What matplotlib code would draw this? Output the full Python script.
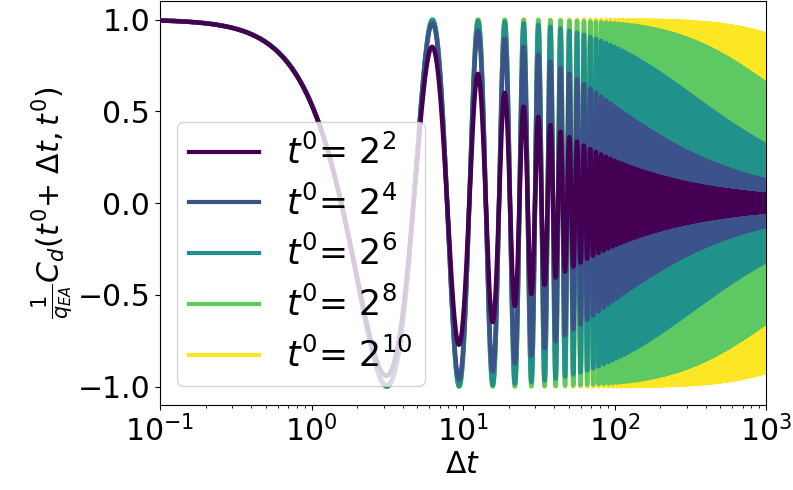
import numpy as np
import matplotlib

matplotlib.use("Agg")
import matplotlib.pyplot as plt

# waiting times t0 = 2**k
t0_exponents = [2, 4, 6, 8, 10]
colors = ["#440154", "#3b528b", "#21918c", "#5ec962", "#fde725"]
dt_min, dt_max = 1e-1, 1e3
decay_power = 0.75  # d/4 with d = 3


def correlation(dt, t0):
    t = t0 + dt
    envelope = (4.0 * t * t0 / (t + t0) ** 2) ** decay_power
    return np.cos(dt) * envelope


dt = np.logspace(np.log10(dt_min), np.log10(dt_max), 200000)

fig = plt.figure(figsize=(7.93, 4.90), dpi=100)
ax = fig.add_axes([0.2018, 0.1735, 0.7642, 0.824])

n = len(t0_exponents)
for i, (k, c) in enumerate(zip(t0_exponents, colors)):
    ax.plot(dt, correlation(dt, 2.0 ** k), color=c, lw=3.2,
            label=rf"$t^0$= $2^{{{k}}}$", zorder=2 + n - i)

ax.set_xscale("log")
ax.set_xlim(dt_min, dt_max)
ax.set_ylim(-1.1, 1.1)
ax.set_yticks([-1.0, -0.5, 0.0, 0.5, 1.0])
ax.tick_params(labelsize=21.5)
ax.set_xlabel(r"$\Delta t$", fontsize=21.5, labelpad=2)
ax.set_ylabel(r"$\frac{1}{q_{EA}}C_d(t^0$+ $\Delta t, t^0)$", fontsize=21.5, labelpad=2)

leg = ax.legend(loc="lower left", fontsize=25, bbox_to_anchor=(0.028, 0.047),
                borderaxespad=0.0, handlelength=2.0, labelspacing=0.42,
                borderpad=0.35)
leg.set_zorder(20)
for line in leg.get_lines():
    line.set_linewidth(3)

fig.savefig("out.png", dpi=100)
